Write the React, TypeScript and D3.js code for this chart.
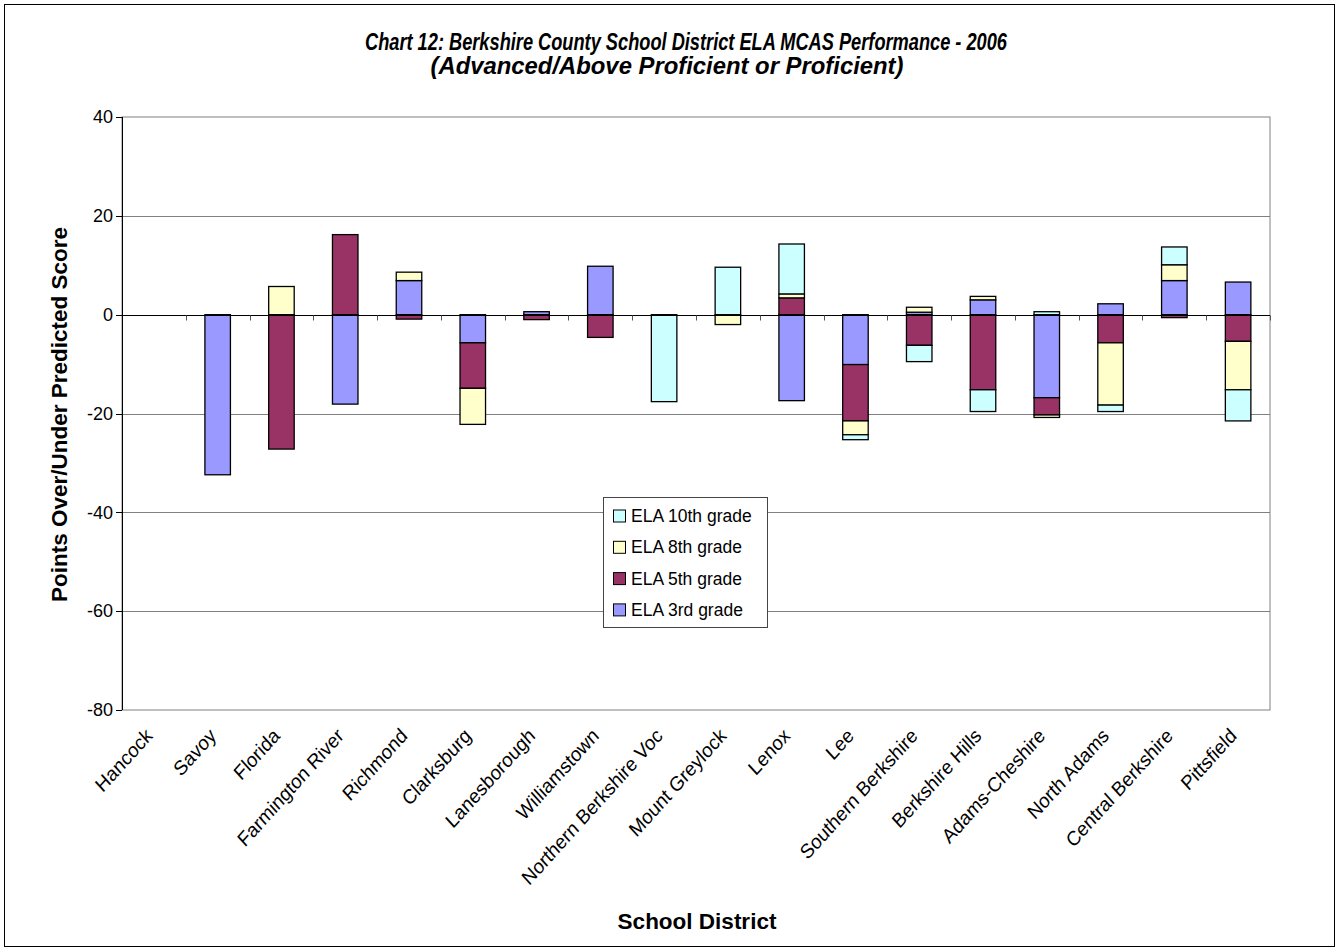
import React, { useEffect, useRef } from 'react';
import * as d3 from 'd3';

const categories = [
  'Hancock', 'Savoy', 'Florida', 'Farmington River', 'Richmond', 'Clarksburg',
  'Lanesborough', 'Williamstown', 'Northern Berkshire Voc', 'Mount Greylock', 'Lenox', 'Lee',
  'Southern Berkshire', 'Berkshire Hills', 'Adams-Cheshire', 'North Adams', 'Central Berkshire', 'Pittsfield',
];

// points over/under predicted score, per grade
const grade3 = [0, -32.4, 0, -18.1, 6.9, -5.7, 0.6, 9.8, 0, 0, -17.4, -10.1, 0.5, 3.0, -16.8, 2.2, 6.9, 6.6];
const grade5 = [0, 0, -27.2, 16.2, -0.9, -9.2, -1.0, -4.6, 0, 0, 3.4, -11.4, -6.2, -15.2, -3.5, -5.7, -0.6, -5.4];
const grade8 = [0, 0, 5.7, 0, 1.7, -7.3, 0, 0, 0, -2.0, 0.8, -2.8, 1.0, 0.7, -0.5, -12.6, 3.2, -9.8];
const grade10 = [0, 0, 0, 0, 0, 0, 0, 0, -17.6, 9.6, 10.1, -1.0, -3.3, -4.4, 0.6, -1.3, 3.6, -6.3];

const seriesKeys = ['g3', 'g5', 'g8', 'g10'];
const seriesNames = ['ELA 3rd grade', 'ELA 5th grade', 'ELA 8th grade', 'ELA 10th grade'];
const seriesColors = ['#9999FF', '#993366', '#FFFFCC', '#CCFFFF'];
const yTicks = [40, 20, 0, -20, -40, -60, -80];

export default function App() {
  const svgRef = useRef<SVGSVGElement | null>(null);

  useEffect(() => {
    if (!svgRef.current) return;
    const svg = d3.select(svgRef.current);
    svg.selectAll('*').remove();

    const font = 'Arial, "Liberation Sans", sans-serif';
    const left = 122, right = 1270, top = 117, bottom = 710;

    const rows = categories.map((c, i) => ({
      cat: c, g3: grade3[i], g5: grade5[i], g8: grade8[i], g10: grade10[i],
    }));

    const x = d3.scaleBand<string>()
      .domain(categories)
      .range([left, right])
      .paddingInner(0.6)
      .paddingOuter(0.3);
    const step = x.step();

    const y = d3.scaleLinear().domain([-80, 40]).range([bottom, top]);

    const stack = d3.stack<any>()
      .keys(seriesKeys)
      .offset(d3.stackOffsetDiverging);
    const stacked = stack(rows);

    // outer chart border
    svg.append('rect')
      .attr('x', 4.5).attr('y', 4.5)
      .attr('width', 1330).attr('height', 942)
      .attr('fill', '#fff')
      .attr('stroke', '#000')
      .attr('stroke-width', 1);

    // plot area
    svg.append('rect')
      .attr('x', left).attr('y', top)
      .attr('width', right - left).attr('height', bottom - top)
      .attr('fill', '#fff')
      .attr('stroke', '#808080')
      .attr('stroke-width', 1);

    // gridlines
    svg.append('g')
      .selectAll('line')
      .data(yTicks.filter(t => t !== 0 && t !== 40 && t !== -80))
      .join('line')
      .attr('x1', left).attr('x2', right)
      .attr('y1', d => Math.round(y(d)) + 0.5).attr('y2', d => Math.round(y(d)) + 0.5)
      .attr('stroke', '#808080')
      .attr('stroke-width', 1);

    // bars
    stacked.forEach((layer, si) => {
      svg.append('g')
        .selectAll('rect')
        .data(layer.filter(d => Math.abs(d[1] - d[0]) > 1e-9))
        .join('rect')
        .attr('x', d => x(d.data.cat) as number)
        .attr('width', x.bandwidth())
        .attr('y', d => y(Math.max(d[0], d[1])))
        .attr('height', d => Math.abs(y(d[0]) - y(d[1])))
        .attr('fill', seriesColors[si])
        .attr('stroke', '#000')
        .attr('stroke-width', 1.3);
    });

    // category axis at zero
    const zeroY = Math.round(y(0)) + 0.5;
    svg.append('line')
      .attr('x1', left).attr('x2', right)
      .attr('y1', zeroY).attr('y2', zeroY)
      .attr('stroke', '#000').attr('stroke-width', 1);
    svg.append('g')
      .selectAll('line')
      .data(d3.range(categories.length + 1))
      .join('line')
      .attr('x1', i => Math.round(left + i * step) + 0.5)
      .attr('x2', i => Math.round(left + i * step) + 0.5)
      .attr('y1', zeroY).attr('y2', zeroY + 5)
      .attr('stroke', '#555').attr('stroke-width', 1);

    // value axis
    svg.append('line')
      .attr('x1', left + 0.5).attr('x2', left + 0.5)
      .attr('y1', top).attr('y2', bottom)
      .attr('stroke', '#000').attr('stroke-width', 1);
    const yAxis = svg.append('g');
    yAxis.selectAll('line')
      .data(yTicks)
      .join('line')
      .attr('x1', left - 6).attr('x2', left)
      .attr('y1', d => Math.round(y(d)) + 0.5).attr('y2', d => Math.round(y(d)) + 0.5)
      .attr('stroke', '#000');
    yAxis.selectAll('text')
      .data(yTicks)
      .join('text')
      .attr('x', left - 9)
      .attr('y', d => y(d))
      .attr('dy', '0.35em')
      .attr('text-anchor', 'end')
      .attr('font-family', font)
      .attr('font-size', 18)
      .text(d => String(d));

    // category labels (slightly stretched vertically, like the source image)
    svg.append('g')
      .selectAll('text')
      .data(categories)
      .join('text')
      .attr('transform', d => {
        const cx = (x(d) as number) + x.bandwidth() / 2;
        return `translate(${cx - 5},${bottom + 22}) scale(1,1.11) rotate(-45)`;
      })
      .attr('dy', '0.35em')
      .attr('text-anchor', 'end')
      .attr('font-family', font)
      .attr('font-size', 18.4)
      .text(d => d);

    // legend
    const lg = svg.append('g').attr('transform', 'translate(603,497)');
    lg.append('rect')
      .attr('x', 0.5).attr('y', 0.5)
      .attr('width', 164).attr('height', 130)
      .attr('fill', '#fff')
      .attr('stroke', '#444')
      .attr('stroke-width', 1);
    const legendOrder = [3, 2, 1, 0];
    legendOrder.forEach((si, k) => {
      const cy = 19 + k * 31.3;
      lg.append('rect')
        .attr('x', 10.5).attr('y', cy - 6)
        .attr('width', 12).attr('height', 12)
        .attr('fill', seriesColors[si])
        .attr('stroke', '#000');
      lg.append('text')
        .attr('x', 28).attr('y', cy)
        .attr('dy', '0.35em')
        .attr('font-family', font)
        .attr('font-size', 17.5)
        .text(seriesNames[si]);
    });

    // titles
    const titleFont = '"Liberation Sans Narrow", "Arial Narrow", Arial, sans-serif';
    svg.append('text')
      .attr('x', 686).attr('y', 50)
      .attr('text-anchor', 'middle')
      .attr('font-family', titleFont)
      .attr('font-weight', 'bold').attr('font-style', 'italic')
      .attr('font-size', 23)
      .attr('textLength', 642).attr('lengthAdjust', 'spacingAndGlyphs')
      .text('Chart 12: Berkshire County School District ELA MCAS Performance - 2006');
    svg.append('text')
      .attr('x', 667).attr('y', 74)
      .attr('text-anchor', 'middle')
      .attr('font-family', titleFont)
      .attr('font-weight', 'bold').attr('font-style', 'italic')
      .attr('font-size', 23)
      .attr('textLength', 473).attr('lengthAdjust', 'spacingAndGlyphs')
      .text('(Advanced/Above Proficient or Proficient)');

    svg.append('text')
      .attr('transform', `translate(67,${(top + bottom) / 2 + 1}) rotate(-90)`)
      .attr('text-anchor', 'middle')
      .attr('font-family', font)
      .attr('font-weight', 'bold')
      .attr('font-size', 22.5)
      .text('Points Over/Under Predicted Score');
    svg.append('text')
      .attr('x', 697).attr('y', 929)
      .attr('text-anchor', 'middle')
      .attr('font-family', font)
      .attr('font-weight', 'bold')
      .attr('font-size', 22.5)
      .text('School District');
  }, []);

  return (
    <svg
      ref={svgRef}
      width={1340}
      height={951}
      style={{ position: 'absolute', left: 0, top: 0, background: '#fff' }}
    />
  );
}
